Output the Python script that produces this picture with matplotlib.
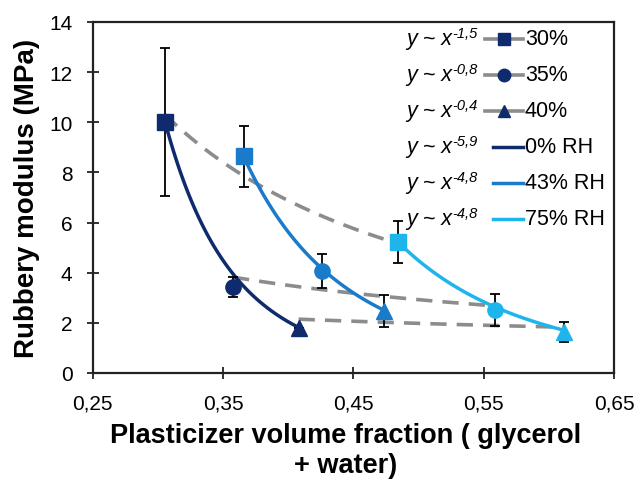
import numpy as np
import matplotlib.pyplot as plt

plt.rcParams['font.family'] = ['Liberation Sans', 'DejaVu Sans']

# measured points per relative humidity (square=30%, circle=35%, triangle=40%)
x_0rh = [0.3056, 0.3577, 0.408]
y_0rh = [10.0, 3.42, 1.8]
e_0rh = [2.95, 0.4, 0.0]

x_43rh = [0.3658, 0.4258, 0.4736]
y_43rh = [8.64, 4.08, 2.49]
e_43rh = [1.22, 0.68, 0.64]

x_75rh = [0.4846, 0.5587, 0.6115]
y_75rh = [5.21, 2.52, 1.62]
e_75rh = [0.84, 0.65, 0.4]

# power law fits y = a * x^b
fit_rh_labels = ['0% RH', '43% RH', '75% RH']
fit_rh_exp = [-5.9, -4.8, -4.8]
fit_rh_coef = [0.00917, 0.0692, 0.161]

fit_gly_labels = ['30%', '35%', '40%']
fit_gly_exp = [-1.5, -0.8, -0.4]
fit_gly_coef = [1.74, 1.68, 1.50]

colors = ['#0f2b6e', '#1a7bcb', '#1eb5ec']
markers = ['s', 'o', '^']
gray = '#8c8c8c'

fig = plt.figure(figsize=(6.37, 4.81), dpi=100)
ax = fig.add_axes([0.1455, 0.2225, 0.8184, 0.7297])

xs = [x_0rh, x_43rh, x_75rh]
ys = [y_0rh, y_43rh, y_75rh]
es = [e_0rh, e_43rh, e_75rh]

# dashed trend lines across humidities for each glycerol content
for k in range(3):
    xx = np.linspace(xs[0][k], xs[2][k], 100)
    ax.plot(xx, fit_gly_coef[k] * xx ** fit_gly_exp[k], color=gray, lw=2.6,
            dashes=(4.5, 2.8), zorder=2)

# solid power-law fits for each humidity
for i in range(3):
    xx = np.linspace(xs[i][0], xs[i][-1], 100)
    ax.plot(xx, fit_rh_coef[i] * xx ** fit_rh_exp[i], color=colors[i], lw=2.5, zorder=3)

for i in range(3):
    ax.errorbar(xs[i], ys[i], yerr=es[i], fmt='none', ecolor='black',
                elinewidth=1.3, capsize=3.5, capthick=1.3, zorder=4)
    for k in range(3):
        ax.plot(xs[i][k], ys[i][k], marker=markers[k], color=colors[i],
                markersize=12 if k == 2 else 11, ls='none', zorder=5)

ax.set_xlim(0.25, 0.65)
ax.set_ylim(0, 14)
ax.set_xticks([0.25, 0.35, 0.45, 0.55, 0.65])
ax.set_xticklabels(['0,25', '0,35', '0,45', '0,55', '0,65'])
ax.set_yticks(range(0, 15, 2))
ax.tick_params(direction='inout', length=9, width=1.3, labelsize=15, color='#222222')
ax.tick_params(axis='y', pad=10)
ax.tick_params(axis='x', pad=10)
for s in ax.spines.values():
    s.set_linewidth(1.6)
    s.set_color('#222222')

ax.set_ylabel('Rubbery modulus (MPa)', fontsize=20, fontweight='bold')
ax.set_xlabel('Plasticizer volume fraction ( glycerol\n+ water)', fontsize=19.5,
              fontweight='bold', linespacing=1.2)
ax.yaxis.set_label_coords(-0.101, 0.5)
ax.xaxis.set_label_coords(0.486, -0.141)

# legend drawn by hand: equation, handle, label
row_y = 0.952
step = 0.1025
tr = ax.transAxes
leg_fs = 15.5


def equation(y, exponent):
    base = ax.text(0.602, y, 'y ~ x', transform=tr, fontsize=leg_fs, style='italic',
                   va='center', ha='left')
    ax.annotate(str(exponent).replace('.', ','), xy=(1.0, 0.6), xycoords=base,
                fontsize=leg_fs * 0.68, style='italic', va='baseline', ha='left')


for k in range(3):
    y = row_y - step * k
    equation(y, fit_gly_exp[k])
    ax.plot([0.7526, 0.8255], [y, y], transform=tr, color=gray, lw=2.6, clip_on=False)
    ax.plot([0.789], [y], transform=tr, marker=markers[k], color=colors[0],
            markersize=9, clip_on=False)
    ax.text(0.829, y, fit_gly_labels[k], transform=tr, fontsize=leg_fs, va='center', ha='left')
for i in range(3):
    y = row_y - step * (i + 3)
    equation(y, fit_rh_exp[i])
    ax.plot([0.768, 0.8255], [y, y], transform=tr, color=colors[i], lw=2.5, clip_on=False)
    ax.text(0.829, y, fit_rh_labels[i], transform=tr, fontsize=leg_fs, va='center', ha='left')

fig.savefig('out.png', dpi=100)
